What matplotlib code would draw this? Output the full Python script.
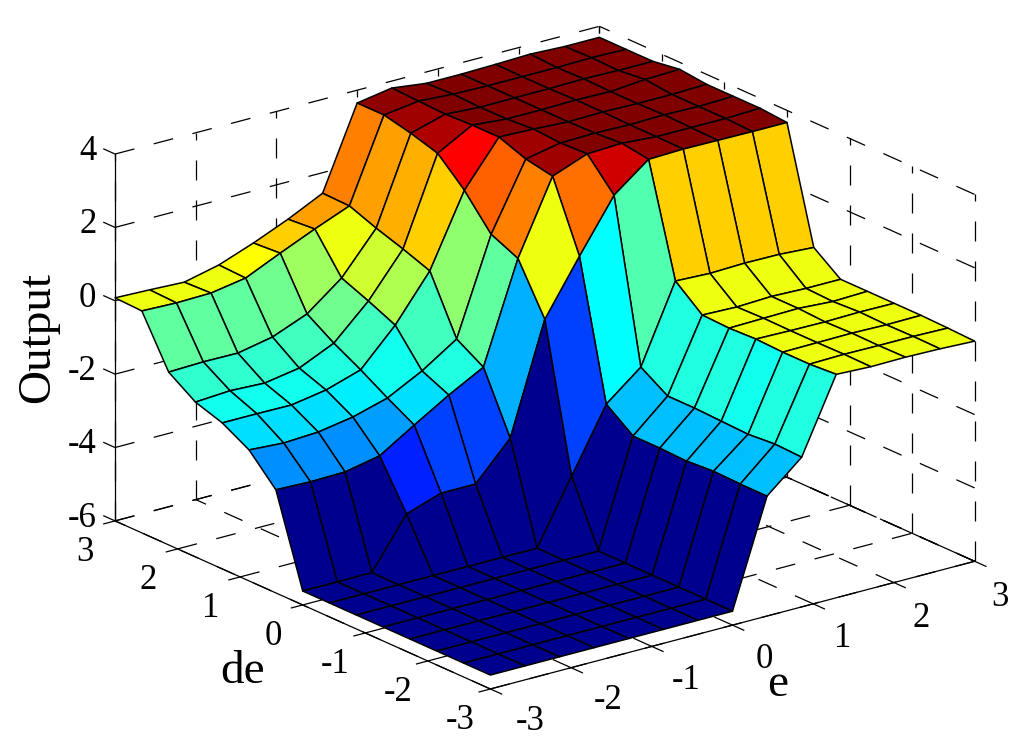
import numpy as np
import matplotlib
matplotlib.use('Agg')
from matplotlib import pyplot as plt
from matplotlib.colors import ListedColormap

# ticks
e_ticks = [-3, -2, -1, 0, 1, 2, 3]
de_ticks = [-3, -2, -1, 0, 1, 2, 3]
z_ticks = [-6, -4, -2, 0, 2, 4]

e_vals = np.linspace(-3, 3, 15)
de_vals = np.linspace(-3, 3, 15)

# surface heights, one list per de value (de=-3 first)
F = -5.62
z_de0 = [F, F, F, F, F, F, F, F, -2.73, -1.92, .09, .05, .06, .04, 0.0]
z_de1 = [F, F, F, F, F, F, F, F, -2.73, -1.89, .04, .06, .05, .05, .03]
z_de2 = [F, F, F, F, F, F, F, F, -2.71, -1.95, .04, .05, .06, .04, .05]
z_de3 = [F, F, F, F, F, F, F, F, -2.76, -1.92, .07, .05, .04, .06, .05]
z_de4 = [F, F, F, F, F, F, F, F, -2.73, -1.89, .04, .06, .08, .02, .05]
z_de5 = [F, F, F, F, F, F, F, F, -2.73, -1.89, .07, .04, .08, .05, .05]
z_de6 = [F, F, F, F, F, F, F, -3.90, -2.19, -1.43, .67, .63, .66, .65, .59]
z_de7 = [F, F, F, -4.27, -3.95, -3.95, -2.95, .05, 1.52, 2.93, 3.66, 3.69, 3.68, 3.67, 3.67]
z_de8 = [-3.19, -3.22, -3.20, -3.01, -2.42, -1.85, -1.34, 1.38, 3.37, 3.73, 3.77, 3.7, 3.7, 3.7, 3.73]
z_de9 = [-2.43, -2.49, -2.44, -2.28, -2.01, -1.52, -.90, 1.71, 3.51, 3.7, 3.72, 3.7, 3.72, 3.7, 3.73]
z_de10 = [-2.02, -2.02, -2.03, -1.87, -1.57, -.60, .63, 2.58, 3.78, 3.75, 3.7, 3.72, 3.7, 3.7, 3.73]
z_de11 = [-1.78, -1.72, -1.76, -1.60, -1.17, -.27, .90, 3.26, 3.78, 3.7, 3.7, 3.72, 3.7, 3.78, 3.81]
z_de12 = [-1.29, -1.26, -1.27, -1.08, -.70, .03, 1.14, 3.48, 3.75, 3.69, 3.7, 3.7, 3.72, 3.7, 3.70]
z_de13 = [.05, .02, .04, .2, .63, 1.04, 1.42, 3.65, 3.78, 3.72, 3.7, 3.7, 3.7, 3.72, 3.70]
z_de14 = [.08, .05, .01, .23, .58, .98, 1.44, 3.65, 3.81, 3.69, 3.69, 3.71, 3.74, 3.7, 3.70]

Z = np.array([z_de0, z_de1, z_de2, z_de3, z_de4, z_de5, z_de6, z_de7,
              z_de8, z_de9, z_de10, z_de11, z_de12, z_de13, z_de14])
X, Y = np.meshgrid(e_vals, de_vals)

plt.rcParams['font.family'] = ['Liberation Serif', 'DejaVu Serif']

W, H = 1024, 755
fig = plt.figure(figsize=(W / 100, H / 100), dpi=100)
side = 1024
shift_x, shift_y = 19, 6
ax = fig.add_axes([shift_x / W, ((H - side) / 2 + shift_y) / H, side / W, side / H],
                  projection='3d', computed_zorder=False)
ax.set_proj_type('ortho')
ax.view_init(elev=20.1, azim=-127.5)
ax.set_xlim(-3, 3, view_margin=0)
ax.set_ylim(-3, 3, view_margin=0)
ax.set_zlim(-6, 4, view_margin=0)
ax.set_box_aspect((1, 1.01, 0.64), zoom=0.902)
ax.set_axis_off()

dash = (0, (16, 16))
grid = dict(color='k', lw=0.9, ls=dash, zorder=1)

# back walls and floor
for t in e_ticks:
    ax.plot([t, t], [3, 3], [-6, 4], **grid)
    ax.plot([t, t], [-3, 3], [-6, -6], **grid)
for t in de_ticks:
    ax.plot([3, 3], [t, t], [-6, 4], **grid)
    ax.plot([-3, 3], [t, t], [-6, -6], **grid)
for t in z_ticks:
    ax.plot([-3, 3], [3, 3], [t, t], **grid)
    ax.plot([3, 3], [-3, 3], [t, t], **grid)
ax.plot([3, 3], [-3, 3], [-6, -6], color='k', lw=0.9, ls=(0, (40, 3)), zorder=1)

# axis lines and ticks
solid = dict(color='k', lw=0.9, zorder=1.5)
ax.plot([-3, -3], [3, 3], [-6, 4], **solid)
ax.plot([-3, -3], [-3, 3], [-6, -6], **solid)
ax.plot([-3, 3], [-3, -3], [-6, -6], **solid)
for t in z_ticks:
    ax.plot([-3, -3], [3, 3.18], [t, t], **solid)
for t in de_ticks:
    ax.plot([-3, -3.14], [t, t], [-6, -6], **solid)
for t in e_ticks:
    ax.plot([t, t], [-3, -3.18], [-6, -6], **solid)

# matlab jet, 64 levels
x = (np.arange(64) + 1) / 64
jet = ListedColormap(np.clip(np.column_stack([1.5 - abs(4 * x - 3),
                                              1.5 - abs(4 * x - 2),
                                              1.5 - abs(4 * x - 1)]), 0, 1))

# surface, flat colour from the first corner of every face like surf()
norm = plt.Normalize(Z.min(), Z.max())
colors = jet(norm(Z))
ax.plot_surface(X, Y, Z, facecolors=colors, rstride=1, cstride=1, shade=False,
                edgecolor='k', linewidth=1.1, antialiased=True, zorder=2)

# tick labels
fs = 25
for t in z_ticks:
    ax.text(-3, 3.3, t - 0.16, str(t), fontsize=fs, ha='right', va='center', zorder=3)
for t in de_ticks:
    ax.text(-3.37, t, -6.65, str(t), fontsize=fs, ha='center', va='center', zorder=3)
for t in e_ticks:
    ax.text(t + 0.03 * (3 - t), -3.4, -6.68, str(t), fontsize=fs, ha='center', va='center', zorder=3)

ax.text(-3.55, 0.25, -7.7, 'de', fontsize=34, ha='center', va='center', zorder=3)
ax.text(0.35, -3.27, -7.62, 'e', fontsize=34, ha='center', va='center', zorder=3)
ax.text(-3, 4.23, -1.95, 'Output', zdir='z', fontsize=34, ha='center', va='center', zorder=3)

fig.savefig('out.png', dpi=100)
